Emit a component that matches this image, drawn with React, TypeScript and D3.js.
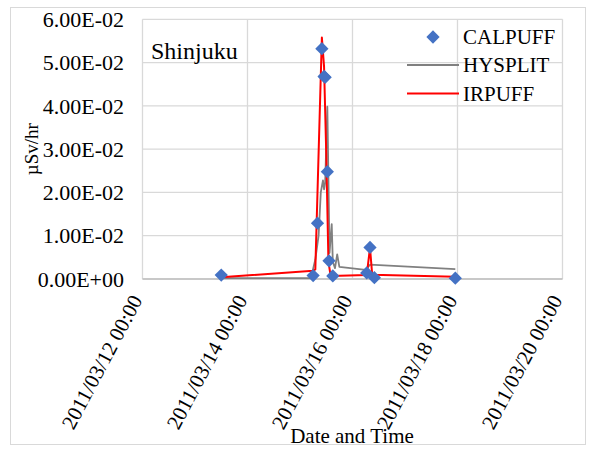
import * as d3 from 'd3';

const parse = d3.utcParse('%Y/%m/%d %H:%M');

// CALPUFF (markers only)
const calpuffTimes = [
  '2011/03/13 12:00', '2011/03/15 06:00', '2011/03/15 08:00', '2011/03/15 10:00',
  '2011/03/15 11:00', '2011/03/15 11:30', '2011/03/15 12:30', '2011/03/15 13:15',
  '2011/03/15 15:00', '2011/03/16 06:30', '2011/03/16 08:00', '2011/03/16 10:00',
  '2011/03/17 23:00',
];
const calpuffValues = [
  0.0009, 0.0008, 0.0129, 0.0532, 0.0468, 0.0466, 0.0248, 0.0042,
  0.0007, 0.0014, 0.0073, 0.0003, 0.0002,
];

// HYSPLIT (gray line)
const hysplitTimes = [
  '2011/03/13 12:00', '2011/03/15 05:00', '2011/03/15 07:00', '2011/03/15 08:30',
  '2011/03/15 09:30', '2011/03/15 10:30', '2011/03/15 11:00', '2011/03/15 11:30',
  '2011/03/15 12:30', '2011/03/15 13:30', '2011/03/15 14:30', '2011/03/15 15:00',
  '2011/03/15 16:00', '2011/03/15 17:00', '2011/03/15 18:00', '2011/03/16 06:00',
  '2011/03/16 08:00', '2011/03/17 23:00',
];
const hysplitValues = [
  0.0002, 0.0002, 0.0045, 0.0100, 0.0200, 0.0228, 0.0207, 0.0222,
  0.0398, 0.0060, 0.0127, 0.0040, 0.0025, 0.0057, 0.0028, 0.0021,
  0.0033, 0.0023,
];

// IRPUFF (red line)
const irpuffTimes = [
  '2011/03/13 12:00', '2011/03/15 06:00', '2011/03/15 07:00', '2011/03/15 10:00',
  '2011/03/15 11:00', '2011/03/15 12:00', '2011/03/15 13:00', '2011/03/15 14:00',
  '2011/03/16 06:30', '2011/03/16 08:00', '2011/03/16 09:00', '2011/03/17 23:00',
];
const irpuffValues = [
  0.0004, 0.0019, 0.0022, 0.0558, 0.0490, 0.0290, 0.0040, 0.0007,
  0.0009, 0.0072, 0.0010, 0.0005,
];

const xTickDates = ['2011/03/12 00:00', '2011/03/14 00:00', '2011/03/16 00:00', '2011/03/18 00:00', '2011/03/20 00:00'];
const yTickValues = [0, 0.01, 0.02, 0.03, 0.04, 0.05, 0.06];
const yTickLabels = ['0.00E+00', '1.00E-02', '2.00E-02', '3.00E-02', '4.00E-02', '5.00E-02', '6.00E-02'];

const legendItems = ['CALPUFF', 'HYSPLIT', 'IRPUFF'];

const W = 591;
const H = 450;
const plot = { left: 142.5, right: 562.5, top: 19.3, bottom: 279 };
const font = 'Liberation Serif, Times New Roman, serif';
const grid = '#d9d9d9';
const blue = '#4472C4';

function zip(times: string[], values: number[]) {
  return times.map((t, i) => ({ t: parse(t) as Date, v: values[i] }));
}

export default function App() {
  const x = d3.scaleUtc()
    .domain([parse(xTickDates[0]) as Date, parse(xTickDates[xTickDates.length - 1]) as Date])
    .range([plot.left, plot.right]);
  const y = d3.scaleLinear().domain([0, 0.06]).range([plot.bottom, plot.top]);

  const line = d3.line<{ t: Date; v: number }>()
    .x(d => x(d.t))
    .y(d => y(d.v));

  const calpuff = zip(calpuffTimes, calpuffValues);
  const hysplit = zip(hysplitTimes, hysplitValues);
  const irpuff = zip(irpuffTimes, irpuffValues);

  const diamond = d3.symbol().type(d3.symbolDiamond2).size(112)() as string;

  const legendY = [37, 65, 93.5];

  return (
    <svg width={W} height={H} style={{ position: 'absolute', left: 0, top: 0, background: '#fff' }}>
      <rect x={10.5} y={7.5} width={575} height={437} fill="#fff" stroke={grid} />

      {/* Grid */}
      {yTickValues.map((v, i) => (
        <line key={`yg-${i}`} x1={plot.left} x2={plot.right} y1={y(v)} y2={y(v)} stroke={grid} strokeWidth={1.3} />
      ))}
      {xTickDates.map((d, i) => (
        <line key={`xg-${i}`} x1={x(parse(d) as Date)} x2={x(parse(d) as Date)} y1={plot.top} y2={plot.bottom} stroke={grid} strokeWidth={1.3} />
      ))}
      <line x1={plot.left} x2={plot.right} y1={plot.bottom} y2={plot.bottom} stroke="#bfbfbf" strokeWidth={1.3} />

      {/* Series */}
      <path d={line(hysplit) as string} fill="none" stroke="#808080" strokeWidth={1.8} strokeLinejoin="round" />
      <path d={line(irpuff) as string} fill="none" stroke="#ff0000" strokeWidth={2} strokeLinejoin="round" />
      {calpuff.map((d, i) => (
        <path key={`c-${i}`} d={diamond} transform={`translate(${x(d.t)},${y(d.v)})`} fill={blue} />
      ))}

      {/* Y axis */}
      {yTickValues.map((v, i) => (
        <text key={`yt-${i}`} x={124} y={y(v)} dy="0.35em" textAnchor="end" fontSize={22} fontFamily={font} fill="#000">
          {yTickLabels[i]}
        </text>
      ))}
      <text transform={`translate(31,${(plot.top + plot.bottom) / 2}) rotate(-90)`} dy="0.35em" textAnchor="middle" fontSize={19} fontFamily={font} fill="#000">
        µSv/hr
      </text>

      {/* X axis */}
      {xTickDates.map((d, i) => (
        <text key={`xt-${i}`} transform={`translate(${x(parse(d) as Date) + 0.5},300) rotate(-62)`} textAnchor="end" fontSize={21} fontFamily={font} fill="#000">
          {d}
        </text>
      ))}
      <text x={352} y={443} textAnchor="middle" fontSize={21} fontFamily={font} fill="#000">Date and Time</text>

      {/* Station label */}
      <text x={151} y={59} fontSize={24} fontFamily={font} fill="#000">Shinjuku</text>

      {/* Legend */}
      <path d={diamond} transform={`translate(433,${legendY[0]})`} fill={blue} />
      <line x1={407} x2={459} y1={legendY[1]} y2={legendY[1]} stroke="#808080" strokeWidth={1.8} />
      <line x1={407} x2={459} y1={legendY[2]} y2={legendY[2]} stroke="#ff0000" strokeWidth={1.8} />
      {legendItems.map((name, i) => (
        <text key={name} x={463} y={legendY[i]} dy="0.35em" fontSize={21} fontFamily={font} fill="#000">{name}</text>
      ))}
    </svg>
  );
}
